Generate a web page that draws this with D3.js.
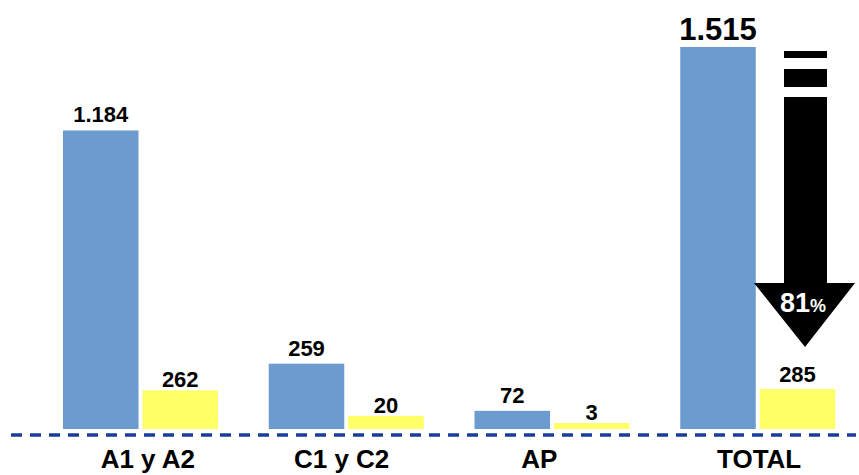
<!DOCTYPE html>
<html>
<head>
<meta charset="utf-8">
<script src="https://cdn.jsdelivr.net/npm/d3@7"></script>
<style>
  html, body { margin: 0; padding: 0; background: #fff; }
  svg { display: block; }
  text { font-family: "Liberation Sans", Arial, sans-serif; font-weight: bold; }
</style>
</head>
<body>
<svg id="chart" width="859" height="475"></svg>
<script>
// Categories and the two series (before / after)
const categories = ["A1 y A2", "C1 y C2", "AP", "TOTAL"];
const seriesBefore = [1184, 259, 72, 1515];
const seriesAfter = [262, 20, 3, 285];
const seriesKeys = ["before", "after"];
const seriesColors = ["#6c9bcf", "#ffff66"];

const W = 859, H = 475;
const baseY = 429;

const svg = d3.select("#chart");
const es = d3.formatLocale({ decimal: ",", thousands: ".", grouping: [3], currency: ["", "€"] });
const fmt = es.format(",d");

// Group positions
const x0 = d3.scaleBand().domain(categories).range([39, 862]).paddingInner(0).paddingOuter(0);
const x1 = d3.scaleBand().domain(seriesKeys).range([24, 179]).paddingInner(0.05);

// Value scales: first series linear, second series compressed
const yBefore = d3.scaleLinear().domain([0, 1515]).range([0, 382]);
const yAfter = d3.scalePow().exponent(0.42).domain([0, 285]).range([0, 40]);
const scales = { before: yBefore, after: yAfter };

const rows = categories.map((c, i) => ({ cat: c, before: seriesBefore[i], after: seriesAfter[i] }));

const groups = svg.selectAll("g.group").data(rows).join("g")
  .attr("class", "group")
  .attr("transform", d => `translate(${x0(d.cat)},0)`);

const cells = d => seriesKeys.map((k, j) => ({ key: k, value: d[k], j, cat: d.cat }));

groups.selectAll("rect").data(cells)
  .join("rect")
  .attr("x", d => x1(d.key))
  .attr("width", x1.bandwidth())
  .attr("y", d => baseY - scales[d.key](d.value))
  .attr("height", d => scales[d.key](d.value))
  .attr("fill", d => seriesColors[d.j]);

const isBig = d => d.cat === "TOTAL" && d.key === "before";
groups.selectAll("text.val").data(cells)
  .join("text")
  .attr("class", "val")
  .attr("x", d => x1(d.key) + x1.bandwidth() / 2)
  .attr("y", d => baseY - scales[d.key](d.value) - (isBig(d) ? 7 : d.key === "before" ? 8 : (d.cat === "TOTAL" ? 7 : 3)))
  .attr("text-anchor", "middle")
  .attr("font-size", d => isBig(d) ? 31 : 22)
  .attr("fill", "#000")
  .text(d => fmt(d.value));

// Dashed baseline
svg.append("line")
  .attr("x1", 11).attr("x2", 856)
  .attr("y1", 435).attr("y2", 435)
  .attr("stroke", "#1a3f9a")
  .attr("stroke-width", 3.5)
  .attr("stroke-dasharray", "11,8");

// Category labels
const labelOffset = { "A1 y A2": 6, "C1 y C2": -6, "AP": -14, "TOTAL": 0 };
svg.selectAll("text.cat").data(categories).join("text")
  .attr("class", "cat")
  .attr("x", d => x0(d) + x0.bandwidth() / 2 + labelOffset[d])
  .attr("y", 468)
  .attr("text-anchor", "middle")
  .attr("font-size", 26)
  .attr("fill", "#000")
  .text(d => d);

// Reduction arrow on the TOTAL group
const totalIdx = categories.indexOf("TOTAL");
const reduction = 1 - seriesAfter[totalIdx] / seriesBefore[totalIdx];
const arrow = svg.append("g").attr("class", "arrow");
const sx0 = 784, sx1 = 827;
arrow.append("rect").attr("x", sx0).attr("y", 51).attr("width", sx1 - sx0).attr("height", 7).attr("fill", "#000");
arrow.append("rect").attr("x", sx0).attr("y", 69).attr("width", sx1 - sx0).attr("height", 18).attr("fill", "#000");
arrow.append("path")
  .attr("d", `M${sx0},97 L${sx1},97 L${sx1},283 L855,283 L805,347 L754,283 L${sx0},283 Z`)
  .attr("fill", "#000");
const pct = arrow.append("text")
  .attr("x", 780).attr("y", 312)
  .attr("fill", "#fff");
pct.append("tspan").attr("font-size", 27).text(Math.round(reduction * 100));
pct.append("tspan").attr("font-size", 18).text("%");
</script>
</body>
</html>
